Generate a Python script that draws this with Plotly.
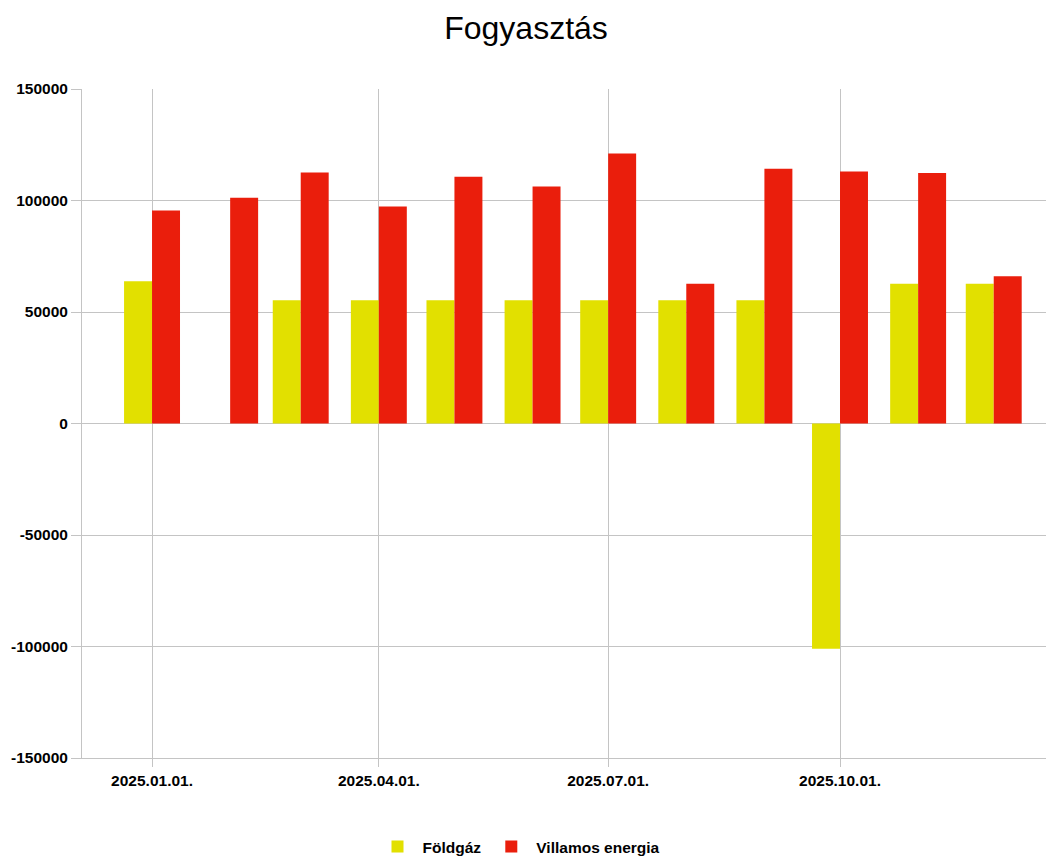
import plotly.graph_objects as go

months = ["2025-01-01", "2025-02-01", "2025-03-01", "2025-04-01", "2025-05-01", "2025-06-01",
          "2025-07-01", "2025-08-01", "2025-09-01", "2025-10-01", "2025-11-01", "2025-12-01"]
foldgaz = [63800, None, 55300, 55300, 55300, 55300, 55300, 55300, 55300, -101000, 62700, 62700]
villamos = [95500, 101200, 112600, 97300, 110600, 106300, 121100, 62700, 114200, 113000, 112300, 66000]

y_tick_vals = [-150000, -100000, -50000, 0, 50000, 100000, 150000]
y_tick_text = ["-150000", "-100000", "-50000", "0", "50000", "100000", "150000"]
x_tick_vals = ["2025-01-01", "2025-04-01", "2025-07-01", "2025-10-01"]
x_tick_text = ["2025.01.01.", "2025.04.01.", "2025.07.01.", "2025.10.01."]

DAY_MS = 86400000
bar_w = 11.1 * DAY_MS
FONT = "Liberation Sans, Arial, sans-serif"
GRID = "#c4c4c4"

# page body has an 8px default margin, so the figure is drawn 8px smaller
W, H = 1046, 848

fig = go.Figure()
fig.add_trace(go.Bar(x=months, y=foldgaz, name="Földgáz", marker=dict(color="#e2e000", line=dict(width=0)),
                     width=bar_w, offset=-bar_w))
fig.add_trace(go.Bar(x=months, y=villamos, name="Villamos energia", marker=dict(color="#ea1e0c", line=dict(width=0)),
                     width=bar_w, offset=0))

fig.update_layout(
    width=W, height=H,
    margin=dict(l=74, r=0, t=81, b=98, autoexpand=False),
    paper_bgcolor="white", plot_bgcolor="white",
    barmode="overlay",
    title=dict(text="Fogyasztás", x=518 / W, xref="container", xanchor="center", y=1 - 20 / H, yref="container",
               yanchor="middle", font=dict(family=FONT, size=32, color="black")),
    font=dict(family=FONT, color="black"),
    legend=dict(orientation="h", xref="container", x=511 / W, xanchor="center", yref="container",
                y=1 - 839 / H, yanchor="middle", font=dict(family=FONT, size=15.5, weight="bold", color="black"),
                itemwidth=40, bgcolor="rgba(0,0,0,0)"),
    xaxis=dict(type="date", range=["2024-12-04 05:00", "2025-12-24 22:00"], automargin=False,
               tickvals=x_tick_vals, ticktext=x_tick_text,
               showgrid=True, gridcolor=GRID, gridwidth=1,
               showline=True, linecolor=GRID, linewidth=1,
               ticks="outside", ticklen=8, tickcolor=GRID,
               tickfont=dict(family=FONT, size=15.5, weight="bold", color="black")),
    yaxis=dict(range=[-150000, 150000], tickvals=y_tick_vals, ticktext=y_tick_text, automargin=False,
               showgrid=True, gridcolor=GRID, gridwidth=1, zeroline=False,
               showline=True, linecolor=GRID, linewidth=1,
               ticks="outside", ticklen=10, tickcolor=GRID,
               tickfont=dict(family=FONT, size=15.5, weight="bold", color="black")),
)

fig.write_html("out.html")
